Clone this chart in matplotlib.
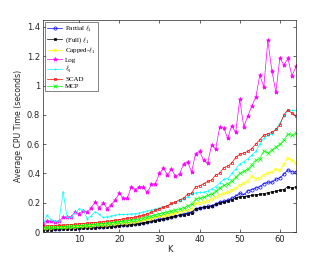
import matplotlib
matplotlib.use("Agg")
import matplotlib.pyplot as plt
import numpy as np

K = np.arange(1, 65)

partial_l1 = [0.020, 0.021, 0.022, 0.023, 0.024, 0.025, 0.026, 0.027, 0.028, 0.030,
              0.031, 0.032, 0.033, 0.034, 0.036, 0.037, 0.039, 0.041, 0.043, 0.046,
              0.048, 0.050, 0.053, 0.056, 0.060, 0.063, 0.068, 0.074, 0.080, 0.088,
              0.092, 0.098, 0.104, 0.110, 0.118, 0.124, 0.130, 0.138, 0.160, 0.165,
              0.168, 0.175, 0.180, 0.190, 0.205, 0.210, 0.218, 0.230, 0.245, 0.265,
              0.255, 0.280, 0.290, 0.300, 0.310, 0.330, 0.340, 0.340, 0.360, 0.370,
              0.395, 0.425, 0.410, 0.410]
full_l1 = [0.015, 0.016, 0.017, 0.018, 0.019, 0.020, 0.021, 0.022, 0.023, 0.025,
           0.026, 0.027, 0.028, 0.029, 0.031, 0.033, 0.035, 0.037, 0.040, 0.043,
           0.045, 0.047, 0.050, 0.053, 0.056, 0.060, 0.066, 0.072, 0.078, 0.085,
           0.088, 0.095, 0.100, 0.106, 0.113, 0.118, 0.125, 0.132, 0.158, 0.163,
           0.168, 0.173, 0.178, 0.188, 0.198, 0.205, 0.212, 0.222, 0.232, 0.240,
           0.242, 0.245, 0.250, 0.255, 0.258, 0.262, 0.268, 0.275, 0.280, 0.285,
           0.290, 0.310, 0.300, 0.310]
capped_l1 = [0.028, 0.029, 0.030, 0.031, 0.032, 0.033, 0.034, 0.036, 0.037, 0.039,
             0.040, 0.042, 0.043, 0.045, 0.047, 0.049, 0.051, 0.053, 0.056, 0.059,
             0.062, 0.065, 0.068, 0.071, 0.075, 0.080, 0.086, 0.092, 0.100, 0.108,
             0.112, 0.118, 0.124, 0.130, 0.138, 0.145, 0.152, 0.160, 0.195, 0.200,
             0.205, 0.215, 0.225, 0.238, 0.255, 0.265, 0.270, 0.285, 0.300, 0.320,
             0.335, 0.350, 0.380, 0.365, 0.370, 0.390, 0.405, 0.410, 0.430, 0.420,
             0.465, 0.505, 0.490, 0.470]
log_pen = [0.055, 0.078, 0.073, 0.070, 0.075, 0.100, 0.100, 0.105, 0.135, 0.125,
           0.145, 0.135, 0.165, 0.205, 0.165, 0.200, 0.160, 0.185, 0.220, 0.265,
           0.230, 0.230, 0.310, 0.290, 0.310, 0.305, 0.270, 0.325, 0.330, 0.400,
           0.435, 0.390, 0.430, 0.380, 0.395, 0.465, 0.480, 0.410, 0.535, 0.550,
           0.490, 0.470, 0.595, 0.565, 0.715, 0.710, 0.640, 0.725, 0.680, 0.905,
           0.720, 0.790, 0.860, 0.920, 1.070, 0.990, 1.310, 1.100, 0.955, 1.190,
           1.140, 1.185, 1.065, 1.130]
lq = [0.050, 0.115, 0.085, 0.075, 0.075, 0.275, 0.100, 0.100, 0.130, 0.160,
      0.150, 0.090, 0.110, 0.140, 0.120, 0.100, 0.105, 0.110, 0.115, 0.120,
      0.120, 0.122, 0.124, 0.126, 0.130, 0.138, 0.145, 0.150, 0.158, 0.165,
      0.172, 0.180, 0.190, 0.200, 0.212, 0.225, 0.240, 0.262, 0.268, 0.270,
      0.272, 0.280, 0.295, 0.310, 0.335, 0.360, 0.365, 0.400, 0.430, 0.465,
      0.480, 0.500, 0.525, 0.550, 0.600, 0.640, 0.660, 0.670, 0.700, 0.745,
      0.790, 0.830, 0.830, 0.830]
scad = [0.040, 0.041, 0.042, 0.044, 0.045, 0.047, 0.049, 0.051, 0.053, 0.056,
        0.058, 0.060, 0.062, 0.065, 0.067, 0.070, 0.073, 0.076, 0.080, 0.085,
        0.090, 0.094, 0.098, 0.102, 0.108, 0.115, 0.125, 0.135, 0.148, 0.160,
        0.168, 0.180, 0.195, 0.205, 0.220, 0.230, 0.258, 0.265, 0.310, 0.315,
        0.330, 0.345, 0.355, 0.390, 0.400, 0.440, 0.450, 0.470, 0.510, 0.530,
        0.540, 0.550, 0.570, 0.600, 0.630, 0.660, 0.670, 0.680, 0.700, 0.730,
        0.800, 0.835, 0.810, 0.795]
mcp = [0.030, 0.031, 0.032, 0.033, 0.035, 0.036, 0.038, 0.040, 0.042, 0.044,
       0.046, 0.048, 0.050, 0.052, 0.055, 0.057, 0.060, 0.063, 0.066, 0.070,
       0.073, 0.076, 0.080, 0.084, 0.090, 0.095, 0.100, 0.108, 0.116, 0.125,
       0.130, 0.136, 0.142, 0.150, 0.158, 0.165, 0.180, 0.190, 0.225, 0.230,
       0.238, 0.250, 0.260, 0.280, 0.300, 0.320, 0.330, 0.350, 0.375, 0.400,
       0.415, 0.430, 0.460, 0.490, 0.500, 0.555, 0.540, 0.560, 0.580, 0.600,
       0.630, 0.670, 0.660, 0.675]

series = [
    (partial_l1, r'Partial $\ell_1$', (0, 0, 1), 'o', 'none'),
    (full_l1, r'(Full) $\ell_1$', (0, 0, 0), 's', 'full'),
    (capped_l1, r'Capped-$\ell_1$', (1, 1, 0), '>', 'none'),
    (log_pen, 'Log', (1, 0, 1), '*', 'full'),
    (lq, r'$\ell_q$', (0, 1, 1), '.', 'full'),
    (scad, 'SCAD', (1, 0, 0), 's', 'none'),
    (mcp, 'MCP', (0, 1, 0), 'x', 'full'),
]

plt.rcParams['mathtext.fontset'] = 'cm'
fig = plt.figure(figsize=(3.27, 2.61), dpi=100)
ax = fig.add_axes([0.1315, 0.111, 0.7735, 0.814])

for vals, lab, col, mk, fs in series:
    ms = {'.': 1.8, 's': 2.0, '*': 3.0}.get(mk, 2.3)
    face = 'none' if fs == 'none' else col
    ax.plot(K, vals, color=col, lw=0.5, marker=mk, ms=ms, mfc=face,
            mec=col, mew=0.5, label=lab)

ax.set_xlim(1, 64)
ax.set_ylim(0, 1.45)
ax.set_xticks([10, 20, 30, 40, 50, 60])
ax.set_yticks([0, 0.2, 0.4, 0.6, 0.8, 1.0, 1.2, 1.4])
ax.set_yticklabels(['0', '0.2', '0.4', '0.6', '0.8', '1', '1.2', '1.4'])
ax.tick_params(direction='in', top=True, right=True, length=2.5, width=0.5,
               labelsize=6, colors='#262626', pad=2)
for s in ax.spines.values():
    s.set_linewidth(0.5)
    s.set_color('#262626')
ax.set_xlabel('K', fontsize=6, labelpad=1, color='#262626')
ax.set_ylabel('Average CPU Time (seconds)', fontsize=5.6, labelpad=3, color='#262626')

leg = ax.legend(loc='upper left', prop={'family': 'Liberation Serif', 'size': 5},
                frameon=True, fancybox=False, edgecolor='#262626',
                handlelength=2.2, handletextpad=0.4, borderpad=0.25,
                labelspacing=0.15, borderaxespad=0.35)
leg.get_frame().set_linewidth(0.5)

fig.savefig('out.png', dpi=100)
